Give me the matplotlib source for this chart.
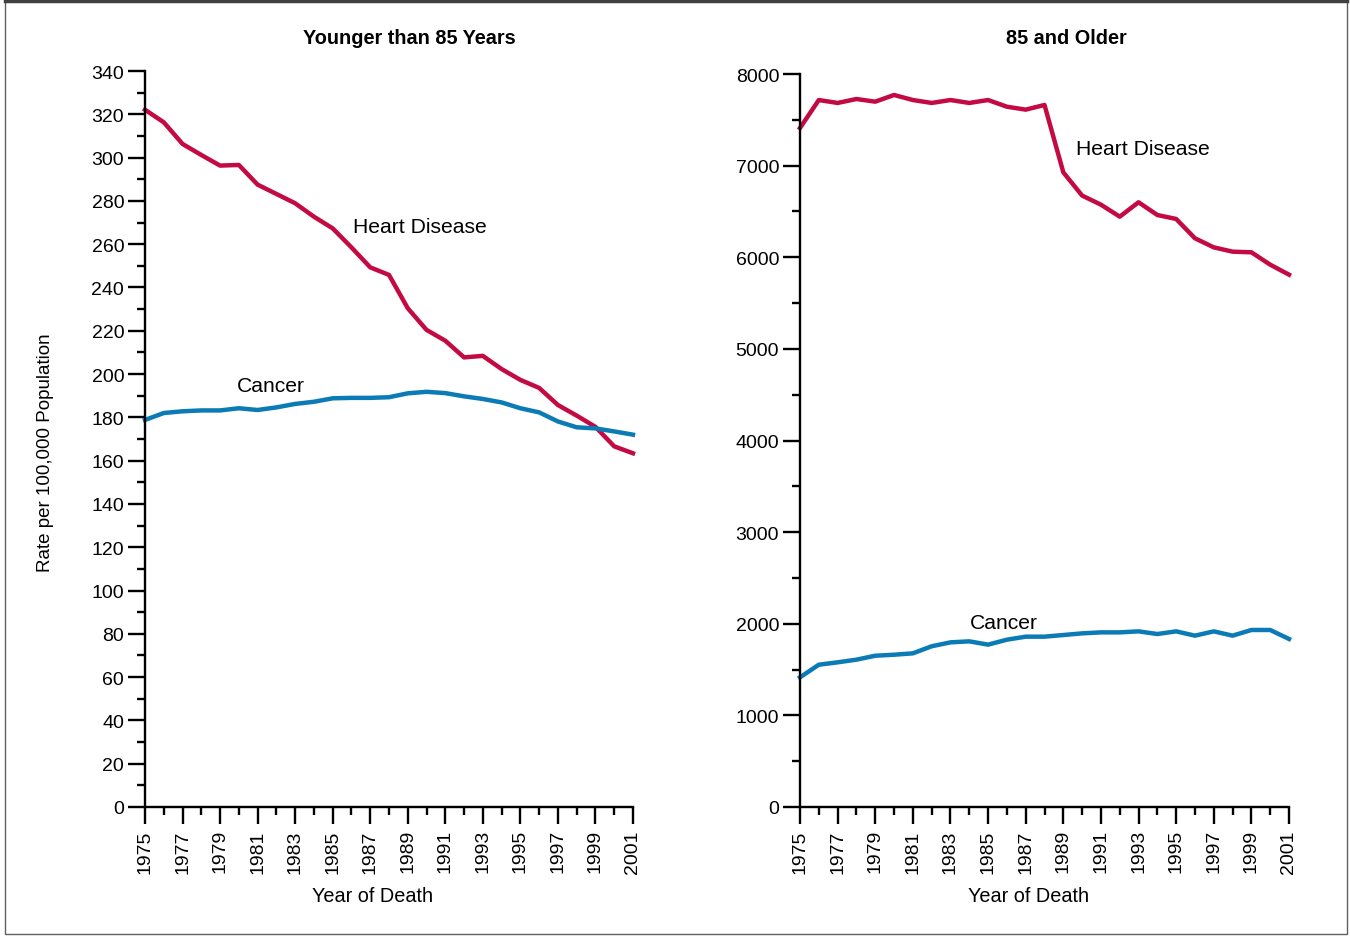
import numpy as np
import matplotlib
matplotlib.use("Agg")
import matplotlib.pyplot as plt
from matplotlib.ticker import MultipleLocator
from matplotlib.patches import Rectangle

plt.rcParams["font.family"] = ["Liberation Sans", "DejaVu Sans"]

years = np.arange(1975, 2002)

# death rates per 100,000, under 85
heart_young = [322.1, 316.3, 306.3, 301.2, 296.3, 296.6, 287.5, 283.2, 278.9,
               272.7, 267.3, 258.5, 249.3, 245.8, 230.4, 220.4, 215.4, 207.7,
               208.4, 202.3, 197.3, 193.6, 185.7, 180.8, 175.6, 166.6, 163.4]
cancer_young = [178.8, 182.0, 182.8, 183.2, 183.2, 184.2, 183.4, 184.6, 186.2,
                187.2, 188.8, 189.0, 189.0, 189.3, 191.1, 191.8, 191.2, 189.7,
                188.5, 186.9, 184.2, 182.3, 178.1, 175.4, 174.9, 173.5, 172.0]

# death rates per 100,000, 85 and older
heart_old = [7411, 7716, 7684, 7727, 7698, 7771, 7716, 7684, 7716, 7684, 7716,
             7643, 7611, 7662, 6927, 6673, 6574, 6443, 6600, 6461, 6418, 6207,
             6108, 6061, 6054, 5919, 5810]
cancer_old = [1415, 1553, 1579, 1608, 1651, 1662, 1677, 1754, 1797, 1808, 1772,
              1826, 1859, 1859, 1877, 1895, 1906, 1906, 1917, 1888, 1917, 1870,
              1917, 1870, 1932, 1932, 1834]

heart_color = "#c30a43"
cancer_color = "#0b7bb6"

fig = plt.figure(figsize=(13.5, 9.37), dpi=100)
W, H = 1350, 937


def px_axes(x0, y0, x1, y1):
    return fig.add_axes([x0 / W, 1 - y1 / H, (x1 - x0) / W, (y1 - y0) / H])


def style(ax, ymax, major, minor):
    ax.set_xlim(1975, 2001)
    ax.set_ylim(0, ymax)
    for s in ["top", "right"]:
        ax.spines[s].set_visible(False)
    for s in ["left", "bottom"]:
        ax.spines[s].set_linewidth(1.7)
        ax.spines[s].set_color("black")
    ax.xaxis.set_major_locator(MultipleLocator(2))
    ax.xaxis.set_minor_locator(MultipleLocator(1))
    ax.yaxis.set_major_locator(MultipleLocator(major))
    ax.yaxis.set_minor_locator(MultipleLocator(minor))
    ax.tick_params(which="major", length=12, width=1.7, direction="out",
                   labelsize=14, pad=3)
    ax.tick_params(which="minor", length=6, width=1.7, direction="out")
    ax.tick_params(axis="x", labelrotation=90, pad=4)
    ax.set_xticks(years[::2])
    ax.set_xticklabels([str(y) for y in years[::2]])


# left panel
ax1 = px_axes(145, 72, 633, 808)
ax1.plot(years, heart_young, color=heart_color, lw=3.2, clip_on=False)
ax1.plot(years, cancer_young, color=cancer_color, lw=3.2, clip_on=False)
style(ax1, 340, 20, 10)
ax1.text(1986.08, 268, "Heart Disease", fontsize=15.2, va="center", ha="left")
ax1.text(1979.9, 194.5, "Cancer", fontsize=15.2, va="center", ha="left")

# right panel
ax2 = px_axes(800, 75, 1289, 808)
ax2.plot(years, heart_old, color=heart_color, lw=3.2, clip_on=False)
ax2.plot(years, cancer_old, color=cancer_color, lw=3.2, clip_on=False)
style(ax2, 8000, 1000, 500)
ax2.text(1989.67, 7192, "Heart Disease", fontsize=15.2, va="center", ha="left")
ax2.text(1984.04, 2019, "Cancer", fontsize=15.2, va="center", ha="left")

# titles and labels
fig.text(409 / W, 1 - 38 / H, "Younger than 85 Years", fontsize=14.3,
         fontweight="bold", ha="center", va="center")
fig.text(1066 / W, 1 - 38 / H, "85 and Older", fontsize=14.3,
         fontweight="bold", ha="center", va="center")
fig.text(373 / W, 1 - 897 / H, "Year of Death", fontsize=14.3,
         ha="center", va="center")
fig.text(1029 / W, 1 - 897 / H, "Year of Death", fontsize=14.3,
         ha="center", va="center")
fig.text(46 / W, 1 - 453 / H, "Rate per 100,000 Population", fontsize=13.5,
         rotation=90, ha="center", va="center")

# outer frame
fig.patches.append(Rectangle((5 / W, 2 / H), 1342 / W, 933 / H,
                             transform=fig.transFigure, fill=False,
                             edgecolor="#606060", lw=1.0))
fig.add_artist(plt.Line2D([5 / W, 1347 / W], [1 - 2 / H, 1 - 2 / H],
                          transform=fig.transFigure, color="#404040", lw=2.5))

fig.savefig("out.png", dpi=100)
